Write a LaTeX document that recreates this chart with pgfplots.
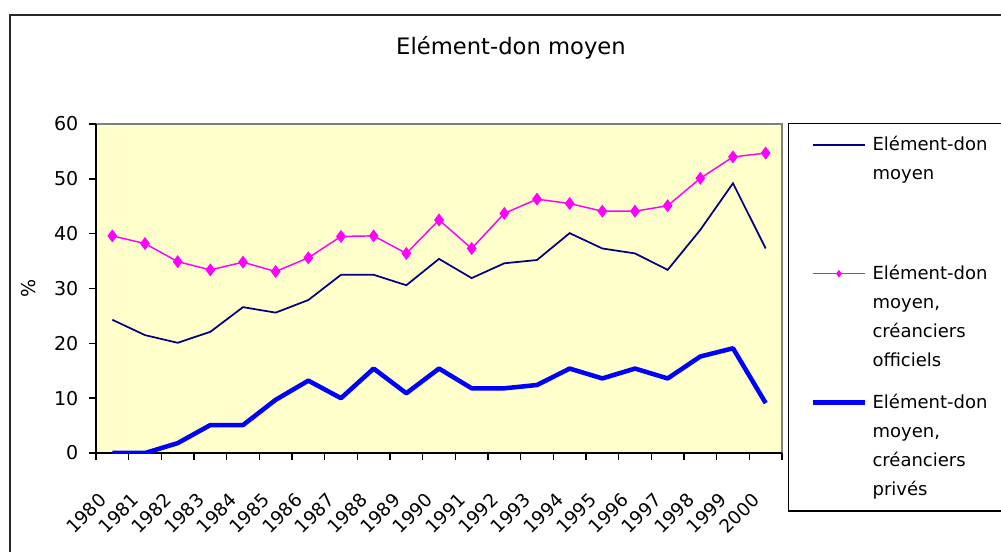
\documentclass[border=0pt]{standalone}
\usepackage{fontspec}
\setmainfont{DejaVu Sans}
\usepackage{pgfplots}
\pgfplotsset{compat=1.18}
\definecolor{bgyellow}{HTML}{FFFFCC}
\definecolor{navyline}{HTML}{000080}
\definecolor{magline}{HTML}{FF00FF}
\definecolor{blueline}{HTML}{0000FF}
\begin{document}
\begin{tikzpicture}
\begin{scope}[x=0.75pt,y=-0.75pt]
\fill[white] (0,0) rectangle (1001,551);
\draw[line width=1.5pt, black!85] (10,15) rectangle (1060,620);
\node[font=\fontsize{17}{20}\selectfont] at (511,48) {Elément-don moyen};
\end{scope}
\begin{axis}[
  at={(72pt,-339.75pt)}, anchor=south west,
  scale only axis, width=514.5pt, height=246.75pt,
  xmin=-0.5, xmax=20.5, ymin=0, ymax=60,
  axis x line*=bottom, axis y line*=left,
  axis line style={black, line width=1.1pt},
  axis background/.style={fill=bgyellow, draw=gray, line width=1.5pt},
  tick align=outside,
  major tick length=5.25pt,
  tick style={black, line width=1.1pt},
  xtick={-0.5,0.5,1.5,2.5,3.5,4.5,5.5,6.5,7.5,8.5,9.5,10.5,11.5,12.5,13.5,14.5,15.5,16.5,17.5,18.5,19.5,20.5},
  xticklabels={},
  extra x ticks={0,1,2,3,4,5,6,7,8,9,10,11,12,13,14,15,16,17,18,19,20},
  extra x tick labels={1980,1981,1982,1983,1984,1985,1986,1987,1988,1989,1990,1991,1992,1993,1994,1995,1996,1997,1998,1999,2000},
  extra x tick style={tick style={draw=none}},
  xticklabel style={xshift=-11pt, yshift=-19pt, rotate=45, anchor=north east, font=\fontsize{13.8}{16}\selectfont},
  ytick={0,10,...,60},
  yticklabel style={xshift=-4.5pt, font=\fontsize{14.3}{17}\selectfont},
  /pgf/number format/assume math mode=true,
  ylabel={\%},
  ylabel style={at={(axis description cs:-0.099,0.5)}, anchor=center, font=\fontsize{14.3}{17}\selectfont},
  legend style={at={(rel axis cs:1.0087,1.003)}, anchor=north west, draw=black, line width=1.1pt, fill=white,
    inner xsep=16.5pt, inner ysep=5pt, row sep=9.75pt, column sep=4pt,
    font=\fontsize{13.5}{21.75}\selectfont,
    cells={anchor=base west}, nodes={inner sep=0pt, text depth=}},
  legend image code/.code={\draw[mark repeat=2, mark phase=2, #1] plot coordinates {(0pt,4.5pt) (19.5pt,4.5pt) (39pt,4.5pt)};},
  legend image post style={mark size=2pt},
]
\addplot[navyline, line width=1.3pt] coordinates {
(0,24.3) (1,21.5) (2,20.1) (3,22.1) (4,26.6) (5,25.6) (6,27.9) (7,32.5) (8,32.5) (9,30.6) (10,35.4)
(11,31.9) (12,34.6) (13,35.2) (14,40.1) (15,37.3) (16,36.4) (17,33.4) (18,40.7) (19,49.2) (20,37.3)};
\addlegendentry{\parbox[t]{105pt}{\strut Elément-don\\\strut moyen\\\strut\\\strut}}
\addplot[magline, line width=1.1pt, mark=diamond*, mark size=4pt] coordinates {
(0,39.6) (1,38.2) (2,34.9) (3,33.4) (4,34.8) (5,33.1) (6,35.6) (7,39.5) (8,39.6) (9,36.4) (10,42.5)
(11,37.3) (12,43.7) (13,46.3) (14,45.5) (15,44.1) (16,44.1) (17,45.1) (18,50.1) (19,54.0) (20,54.7)};
\addlegendentry{\parbox[t]{105pt}{\strut Elément-don\\\strut moyen,\\\strut créanciers\\\strut officiels}}
\addplot[blueline, line width=3.4pt, line join=round] coordinates {
(0,0) (1,0) (2,1.8) (3,5.1) (4,5.1) (5,9.7) (6,13.2) (7,10.0) (8,15.4) (9,10.9) (10,15.4)
(11,11.8) (12,11.8) (13,12.4) (14,15.4) (15,13.6) (16,15.4) (17,13.6) (18,17.6) (19,19.1) (20,9.1)};
\addlegendentry{\parbox[t]{105pt}{\strut Elément-don\\\strut moyen,\\\strut créanciers\\\strut privés}}
\end{axis}
\pgfresetboundingbox
\path[use as bounding box] (0,0) rectangle (750.75pt,-413.25pt);
\end{tikzpicture}
\end{document}
